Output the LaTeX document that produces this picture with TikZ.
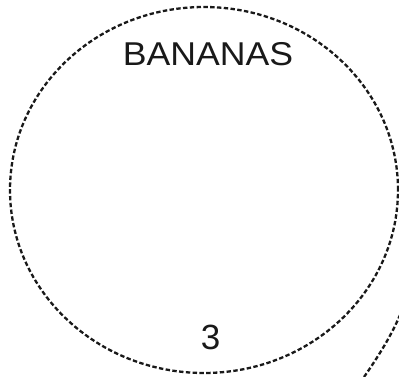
\documentclass[tikz,border=0pt]{standalone}
\usepackage{fontspec}
\setmainfont{Liberation Sans}
\begin{document}
\begin{tikzpicture}[x=1pt,y=1pt,
  dashline/.style={draw=black!90, line width=2.3pt, dash pattern=on 4.4pt off 2.4pt},
  lbl/.style={inner sep=0pt, text=black!90}]
\useasboundingbox (0,0) rectangle (399,376);
\path[dashline] (204,186) ellipse [x radius=194, y radius=183];
\node[lbl, font=\fontsize{33}{36}\selectfont, xscale=1.08, transform shape] (title) at (208,322) {BANANAS};
\node[lbl, font=\fontsize{35}{38}\selectfont] (num) at (210.5,38.5) {3};
\coordinate (c1) at (364,-1);
\coordinate (c2) at (400,61);
\draw[dashline] (c1) .. controls (380,22) and (392,42) .. (c2);
\end{tikzpicture}
\end{document}
